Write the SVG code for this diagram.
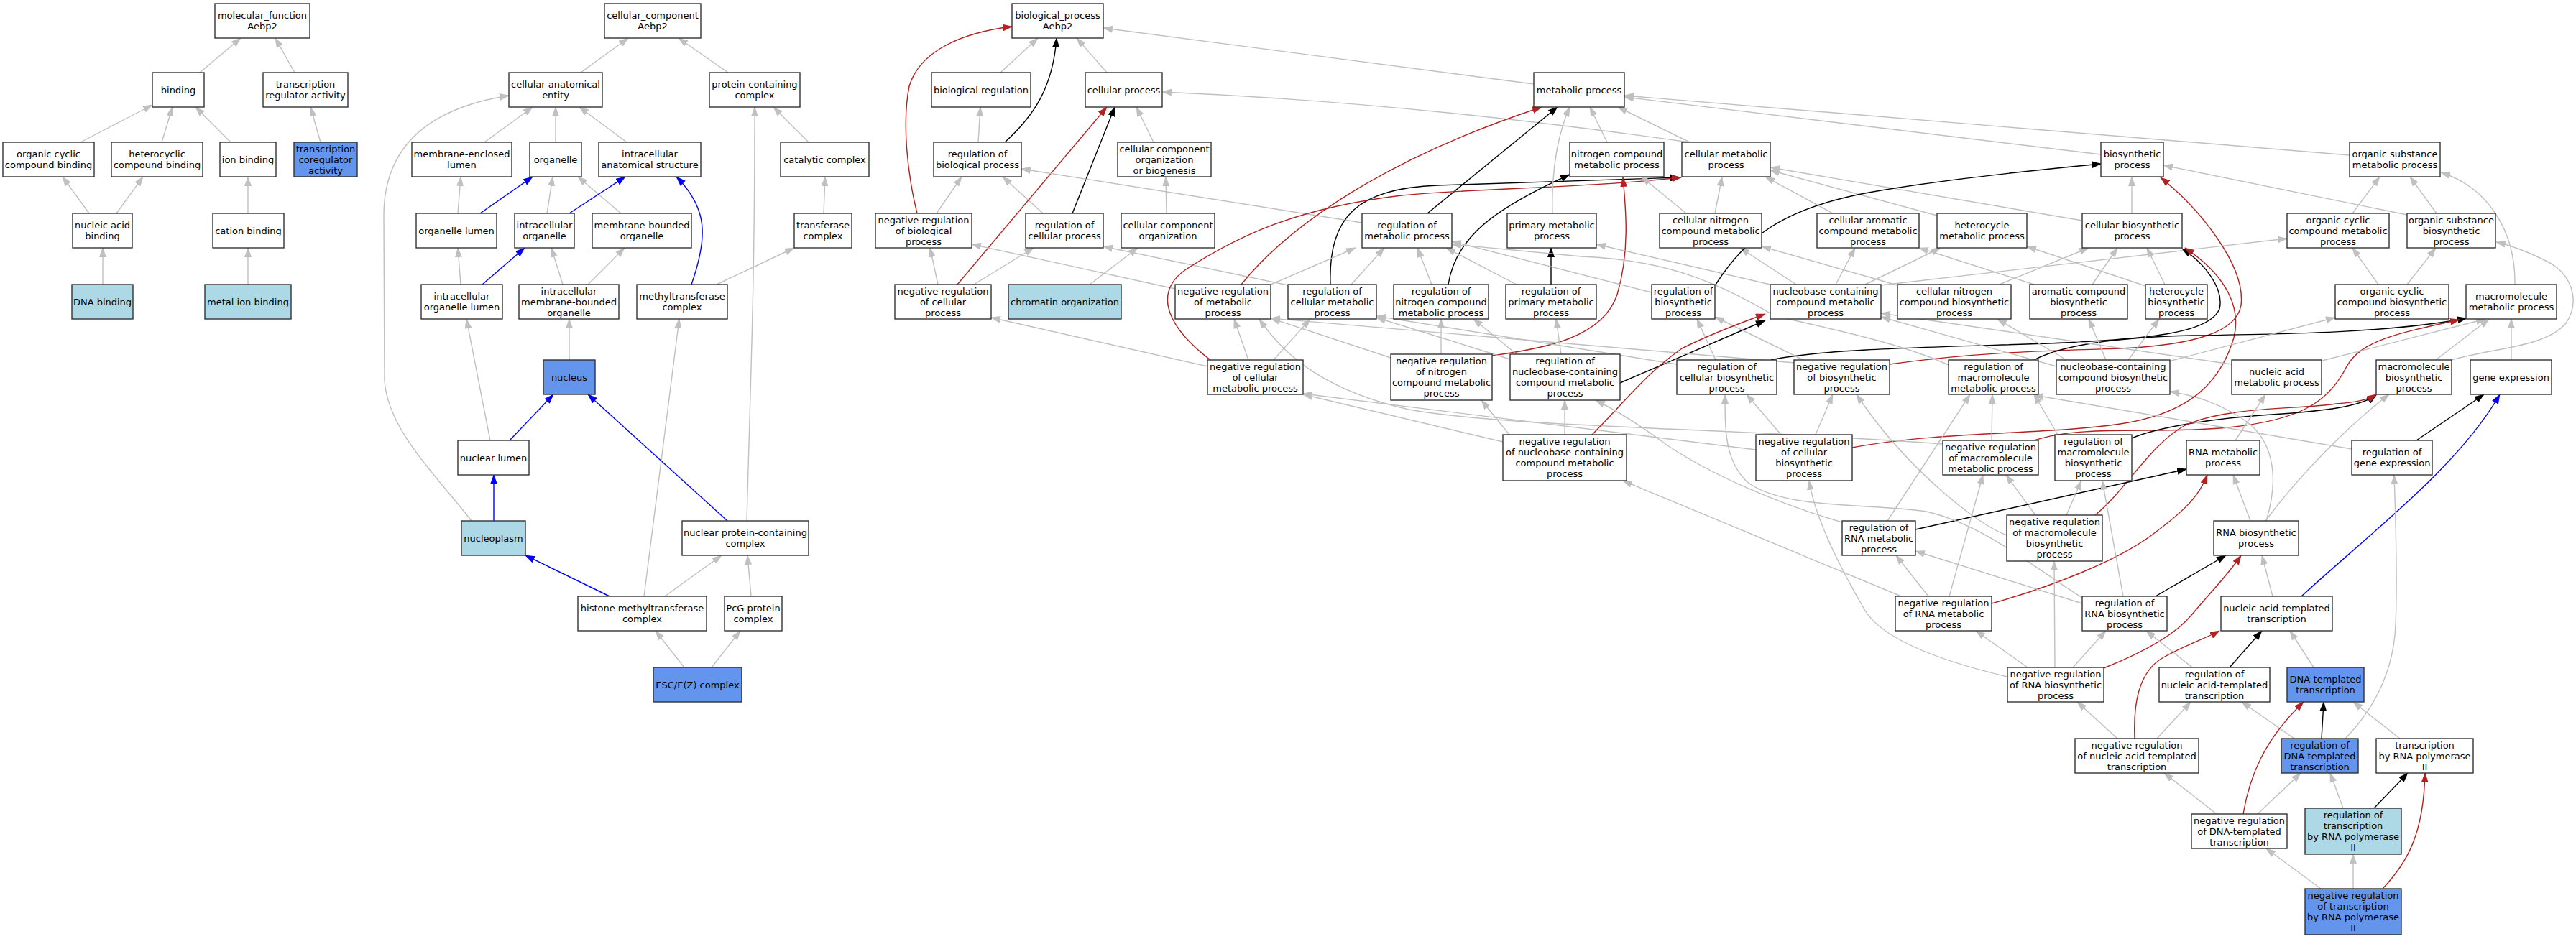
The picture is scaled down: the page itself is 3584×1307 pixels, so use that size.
<svg xmlns="http://www.w3.org/2000/svg" width="3584" height="1307" viewBox="0 0 3584 1307">
<style>
.n rect{fill:#fff;stroke:#333;stroke-width:1.4}
.lb rect{fill:#add8e6}
.cb rect{fill:#6495ed}
text{font-family:"DejaVu Sans","Liberation Sans",sans-serif;font-size:13px;text-anchor:middle;fill:#000}
#edges path{fill:none;stroke-width:1.4}
.g{stroke:#c0c0c0;marker-end:url(#ag)}
.k{stroke:#000;marker-end:url(#ak)}
.r{stroke:#b22222;marker-end:url(#ar)}
.b{stroke:#0000ff;marker-end:url(#ab)}
</style>
<defs>
<marker id="ag" viewBox="0 0 14 10" refX="13" refY="5" markerWidth="14" markerHeight="10" markerUnits="userSpaceOnUse" orient="auto"><path d="M0,0L14,5L0,10z" fill="#c0c0c0"/></marker>
<marker id="ak" viewBox="0 0 14 10" refX="13" refY="5" markerWidth="14" markerHeight="10" markerUnits="userSpaceOnUse" orient="auto"><path d="M0,0L14,5L0,10z" fill="#000"/></marker>
<marker id="ar" viewBox="0 0 14 10" refX="13" refY="5" markerWidth="14" markerHeight="10" markerUnits="userSpaceOnUse" orient="auto"><path d="M0,0L14,5L0,10z" fill="#b22222"/></marker>
<marker id="ab" viewBox="0 0 14 10" refX="13" refY="5" markerWidth="14" markerHeight="10" markerUnits="userSpaceOnUse" orient="auto"><path d="M0,0L14,5L0,10z" fill="#0000ff"/></marker>
</defs>
<rect width="3584" height="1307" fill="#fff"/>
<g id="edges">
<path class="g" d="M278,101L335,53"/>
<path class="g" d="M410,101L383,53"/>
<path class="g" d="M112,198L212,146"/>
<path class="g" d="M225,198L240,149"/>
<path class="g" d="M321,198L272,149"/>
<path class="g" d="M446,198L432,149"/>
<path class="g" d="M124,297L87,246"/>
<path class="g" d="M162,297L199,246"/>
<path class="g" d="M345,297L345,246"/>
<path class="g" d="M143,396L143,345"/>
<path class="g" d="M345,396L345,345"/>
<path class="g" d="M808,101L874,53"/>
<path class="g" d="M1013,101L944,53"/>
<path class="g" d="M674,198L741,149"/>
<path class="g" d="M773,198L773,149"/>
<path class="g" d="M872,198L806,149"/>
<path class="g" d="M1125,198L1076,149"/>
<path class="g" d="M637,297L641,246"/>
<path class="b" d="M668,297L741,246"/>
<path class="g" d="M761,297L769,246"/>
<path class="g" d="M864,297L804,246"/>
<path class="b" d="M792,297L870,246"/>
<path class="g" d="M1146,297L1148,246"/>
<path class="g" d="M641,396L637,345"/>
<path class="b" d="M671,396L730,345"/>
<path class="g" d="M783,396L767,345"/>
<path class="g" d="M818,396L869,345"/>
<path class="b" d="M962,396C985,330 985,290 941,246"/>
<path class="g" d="M997,396L1105,345"/>
<path class="g" d="M792,501L792,444"/>
<path class="g" d="M682,613L649,444"/>
<path class="b" d="M709,613L770,549"/>
<path class="b" d="M1012,725L818,549"/>
<path class="b" d="M687,725L687,661"/>
<path class="g" d="M656,725C610,665 540,600 535,530L534,300C534,200 600,150 708,133"/>
<path class="b" d="M848,830L731,773"/>
<path class="g" d="M925,830L1004,773"/>
<path class="g" d="M896,830L945,444"/>
<path class="g" d="M1045,830L1040,773"/>
<path class="g" d="M952,929L912,878"/>
<path class="g" d="M990,929L1030,878"/>
<path class="g" d="M1039,725C1045,500 1050,400 1050,149"/>
<path class="g" d="M1392,101L1444,53"/>
<path class="g" d="M1540,101L1498,53"/>
<path class="g" d="M2134,117L1535,39"/>
<path class="k" d="M1398,198C1440,160 1465,120 1470,53"/>
<path class="g" d="M1361,198L1364,149"/>
<path class="r" d="M1276,297C1262,240 1255,170 1265,120C1280,70 1340,45 1408,37"/>
<path class="g" d="M1303,297L1338,246"/>
<path class="g" d="M1451,297L1395,246"/>
<path class="k" d="M1492,297L1551,149"/>
<path class="g" d="M1605,198L1581,149"/>
<path class="g" d="M1623,297L1622,246"/>
<path class="r" d="M1332,396L1540,149"/>
<path class="g" d="M1305,396L1294,345"/>
<path class="g" d="M1355,396L1438,345"/>
<path class="g" d="M1516,396L1583,345"/>
<path class="g" d="M2351,198C2150,170 1900,140 1617,128"/>
<path class="g" d="M1895,310L1421,235"/>
<path class="g" d="M1635,402L1352,340"/>
<path class="g" d="M1792,397L1535,343"/>
<path class="g" d="M1680,510L1379,442"/>
<path class="k" d="M1986,297L2167,149"/>
<path class="r" d="M1727,396C1780,330 1900,230 2145,149"/>
<path class="k" d="M1851,396C1848,300 1890,262 2000,258L2337,247"/>
<path class="r" d="M1684,501C1630,460 1600,410 1650,375C1720,330 1800,290 1950,272C2050,262 2200,262 2339,247"/>
<path class="k" d="M2015,396C2025,330 2080,290 2184,243"/>
<path class="r" d="M2076,495C2150,485 2230,470 2250,410C2268,350 2262,290 2258,247"/>
<path class="g" d="M2236,198L2212,149"/>
<path class="g" d="M2351,198L2251,149"/>
<path class="g" d="M2160,297C2158,230 2170,180 2184,149"/>
<path class="g" d="M2923,215L2260,135"/>
<path class="g" d="M3269,216L2260,133"/>
<path class="g" d="M2346,297L2284,246"/>
<path class="g" d="M2386,297L2396,246"/>
<path class="g" d="M2550,297L2456,246"/>
<path class="g" d="M2695,300L2463,237"/>
<path class="g" d="M2897,307L2463,233"/>
<path class="g" d="M2966,297L2966,246"/>
<path class="g" d="M3349,299L3010,230"/>
<path class="g" d="M3273,297L3311,246"/>
<path class="g" d="M3390,297L3353,246"/>
<path class="g" d="M3499,396C3500,320 3460,260 3396,240"/>
<path class="g" d="M3309,396L3273,345"/>
<path class="g" d="M3349,396L3389,345"/>
<path class="k" d="M2158,396L2158,345"/>
<path class="g" d="M2463,396L2221,340"/>
<path class="g" d="M2499,396L2421,345"/>
<path class="g" d="M2554,396L2581,345"/>
<path class="g" d="M2595,396L2700,345"/>
<path class="g" d="M2617,397L3182,332"/>
<path class="g" d="M2640,397L2451,343"/>
<path class="g" d="M2782,396L2906,345"/>
<path class="g" d="M2830,396L2670,345"/>
<path class="g" d="M2911,396L2946,345"/>
<path class="g" d="M3012,396L2987,345"/>
<path class="g" d="M2985,398L2820,343"/>
<path class="k" d="M2387,396C2430,330 2480,290 2600,268C2700,250 2850,235 2923,228"/>
<path class="g" d="M2298,407L2020,336"/>
<path class="g" d="M1880,396L1926,345"/>
<path class="g" d="M1768,396L1886,345"/>
<path class="g" d="M1992,396L1972,345"/>
<path class="g" d="M2110,396L2012,345"/>
<path class="g" d="M2711,508C2650,480 2560,460 2470,440C2400,400 2330,362 2200,357L2020,340"/>
<path class="g" d="M1737,501L1717,444"/>
<path class="g" d="M1772,501L1823,444"/>
<path class="g" d="M2005,493L2005,444"/>
<path class="g" d="M1935,498L1768,443"/>
<path class="g" d="M2101,500L1915,442"/>
<path class="g" d="M2110,493L2050,444"/>
<path class="g" d="M2172,493L2165,444"/>
<path class="k" d="M2254,533L2456,446"/>
<path class="g" d="M2387,501L2361,444"/>
<path class="g" d="M2333,507L1915,440"/>
<path class="k" d="M2464,501C2540,485 2700,483 2850,478C3000,472 3075,462 3088,430C3095,400 3065,365 3036,346"/>
<path class="g" d="M2509,501L2386,441"/>
<path class="g" d="M2497,505L1768,443"/>
<path class="r" d="M2629,507C2750,490 2850,488 2950,485C3060,480 3112,460 3118,425C3125,370 3060,290 3006,247"/>
<path class="r" d="M2577,623C2700,600 2850,605 2950,590C3050,575 3090,530 3108,470C3118,430 3100,385 3040,345"/>
<path class="k" d="M2830,501C2860,485 2920,470 3050,467C3200,465 3330,462 3432,443"/>
<path class="r" d="M2830,613C2900,590 3000,605 3100,595C3200,585 3240,560 3265,510C3285,475 3330,465 3422,445"/>
<path class="g" d="M2771,613L2772,549"/>
<path class="g" d="M2703,618C2400,595 2100,595 1960,570C1850,545 1790,500 1752,444"/>
<path class="g" d="M2443,626L1813,548"/>
<path class="g" d="M2091,615L1813,549"/>
<path class="g" d="M2100,605L2061,557"/>
<path class="g" d="M2177,605L2177,557"/>
<path class="r" d="M2215,605C2260,560 2290,520 2340,485C2380,465 2420,450 2456,437"/>
<path class="g" d="M2478,605L2430,549"/>
<path class="g" d="M2526,605L2550,549"/>
<path class="g" d="M2863,605L2830,549"/>
<path class="k" d="M2966,610C3000,595 3080,582 3160,577C3240,572 3285,565 3306,550"/>
<path class="g" d="M2861,510L2617,441"/>
<path class="g" d="M3105,507L2617,436"/>
<path class="g" d="M2875,501L2779,444"/>
<path class="g" d="M2930,501L2906,444"/>
<path class="g" d="M2961,501L3004,444"/>
<path class="g" d="M3021,502L3249,442"/>
<path class="g" d="M3231,502L3458,444"/>
<path class="g" d="M3389,501L3463,444"/>
<path class="g" d="M3408,502C3460,485 3540,485 3570,450C3590,420 3580,380 3540,362C3520,352 3500,343 3473,337"/>
<path class="g" d="M3494,501L3494,444"/>
<path class="r" d="M2915,717C2960,680 2990,620 3040,592C3100,565 3200,570 3250,562C3280,560 3295,556 3306,549"/>
<path class="g" d="M2832,717L2791,661"/>
<path class="g" d="M2875,717L2896,669"/>
<path class="g" d="M2792,745C2750,730 2650,650 2583,549"/>
<path class="g" d="M3110,613L3152,549"/>
<path class="g" d="M3272,625L2830,550"/>
<path class="k" d="M3362,613L3456,549"/>
<path class="g" d="M2563,727C2470,700 2380,660 2320,620C2280,590 2250,572 2220,557"/>
<path class="g" d="M2626,725L2741,549"/>
<path class="k" d="M2665,737L3042,653"/>
<path class="g" d="M3131,725L3107,661"/>
<path class="g" d="M3152,725C3200,660 3270,590 3324,549"/>
<path class="g" d="M3153,725C3170,670 3165,620 3130,590C3090,560 3050,550 3019,545"/>
<path class="g" d="M2645,830L2258,669"/>
<path class="g" d="M2683,830L2638,773"/>
<path class="g" d="M2712,830L2759,661"/>
<path class="r" d="M2771,840C2850,818 2950,780 3000,740C3040,710 3060,690 3071,661"/>
<path class="g" d="M2897,840L2665,767"/>
<path class="g" d="M2954,830L2925,669"/>
<path class="g" d="M2897,832C2830,790 2760,730 2680,712C2600,700 2480,710 2430,670C2400,640 2400,600 2400,549"/>
<path class="k" d="M2999,830L3097,773"/>
<path class="g" d="M3162,830L3147,773"/>
<path class="b" d="M3202,830C3300,740 3420,650 3478,549"/>
<path class="g" d="M2821,929L2749,878"/>
<path class="g" d="M2859,929L2858,781"/>
<path class="g" d="M2884,929L2930,878"/>
<path class="g" d="M2793,942C2700,920 2620,890 2595,850C2560,790 2525,720 2517,669"/>
<path class="r" d="M2927,930C2990,905 3030,880 3050,855C3075,825 3100,800 3118,773"/>
<path class="g" d="M3050,929L2986,878"/>
<path class="k" d="M3102,929L3147,878"/>
<path class="g" d="M3219,929L3186,878"/>
<path class="g" d="M2946,1028L2890,977"/>
<path class="g" d="M3001,1028L3048,977"/>
<path class="r" d="M2970,1028C2968,980 2975,935 3010,915C3040,898 3070,888 3088,878"/>
<path class="g" d="M3192,1028L3119,977"/>
<path class="k" d="M3230,1028L3233,977"/>
<path class="g" d="M3263,1028C3300,990 3330,940 3333,870C3336,800 3333,720 3331,661"/>
<path class="g" d="M3339,1028L3274,977"/>
<path class="g" d="M3084,1133L3011,1076"/>
<path class="g" d="M3141,1133L3201,1076"/>
<path class="r" d="M3121,1133C3130,1080 3150,1030 3205,977"/>
<path class="g" d="M3260,1125L3242,1076"/>
<path class="k" d="M3303,1125L3350,1076"/>
<path class="g" d="M3274,1237L3274,1189"/>
<path class="g" d="M3229,1237L3153,1181"/>
<path class="r" d="M3315,1237C3350,1200 3372,1160 3374,1076"/>
</g>
<g id="mf_root" class="n"><rect x="299" y="5" width="132" height="48"/><text x="365" y="26">molecular_function</text><text x="365" y="41">Aebp2</text></g>
<g id="binding" class="n"><rect x="212" y="101" width="72" height="48"/><text x="248" y="129.5">binding</text></g>
<g id="tra" class="n"><rect x="366" y="101" width="118" height="48"/><text x="425" y="122">transcription</text><text x="425" y="137">regulator activity</text></g>
<g id="occb" class="n"><rect x="4" y="198" width="127" height="48"/><text x="67.5" y="219">organic cyclic</text><text x="67.5" y="234">compound binding</text></g>
<g id="hcb" class="n"><rect x="155" y="198" width="127" height="48"/><text x="218.5" y="219">heterocyclic</text><text x="218.5" y="234">compound binding</text></g>
<g id="ionb" class="n"><rect x="306" y="198" width="78" height="48"/><text x="345" y="226.5">ion binding</text></g>
<g id="tca" class="n cb"><rect x="409" y="198" width="88" height="48"/><text x="453" y="211.5">transcription</text><text x="453" y="226.5">coregulator</text><text x="453" y="241.5">activity</text></g>
<g id="nab" class="n"><rect x="101" y="297" width="83" height="48"/><text x="142.5" y="318">nucleic acid</text><text x="142.5" y="333">binding</text></g>
<g id="catb" class="n"><rect x="296" y="297" width="99" height="48"/><text x="345.5" y="325.5">cation binding</text></g>
<g id="dnab" class="n lb"><rect x="100" y="396" width="85" height="48"/><text x="142.5" y="424.5">DNA binding</text></g>
<g id="mib" class="n lb"><rect x="285" y="396" width="120" height="48"/><text x="345" y="424.5">metal ion binding</text></g>
<g id="cc_root" class="n"><rect x="841" y="5" width="134" height="48"/><text x="908" y="26">cellular_component</text><text x="908" y="41">Aebp2</text></g>
<g id="cae" class="n"><rect x="708" y="101" width="130" height="48"/><text x="773" y="122">cellular anatomical</text><text x="773" y="137">entity</text></g>
<g id="pcc" class="n"><rect x="987" y="101" width="126" height="48"/><text x="1050" y="122">protein-containing</text><text x="1050" y="137">complex</text></g>
<g id="mel" class="n"><rect x="573" y="198" width="139" height="48"/><text x="642.5" y="219">membrane-enclosed</text><text x="642.5" y="234">lumen</text></g>
<g id="org" class="n"><rect x="737" y="198" width="72" height="48"/><text x="773" y="226.5">organelle</text></g>
<g id="ias" class="n"><rect x="833" y="198" width="142" height="48"/><text x="904" y="219">intracellular</text><text x="904" y="234">anatomical structure</text></g>
<g id="catc" class="n"><rect x="1086" y="198" width="123" height="48"/><text x="1147.5" y="226.5">catalytic complex</text></g>
<g id="orgl" class="n"><rect x="579" y="297" width="112" height="48"/><text x="635" y="325.5">organelle lumen</text></g>
<g id="io" class="n"><rect x="716" y="297" width="83" height="48"/><text x="757.5" y="318">intracellular</text><text x="757.5" y="333">organelle</text></g>
<g id="mbo" class="n"><rect x="824" y="297" width="138" height="48"/><text x="893" y="318">membrane-bounded</text><text x="893" y="333">organelle</text></g>
<g id="trc" class="n"><rect x="1105" y="297" width="80" height="48"/><text x="1145" y="318">transferase</text><text x="1145" y="333">complex</text></g>
<g id="iol" class="n"><rect x="586" y="396" width="113" height="48"/><text x="642.5" y="417">intracellular</text><text x="642.5" y="432">organelle lumen</text></g>
<g id="imbo" class="n"><rect x="722" y="396" width="139" height="48"/><text x="791.5" y="409.5">intracellular</text><text x="791.5" y="424.5">membrane-bounded</text><text x="791.5" y="439.5">organelle</text></g>
<g id="mtc" class="n"><rect x="886" y="396" width="126" height="48"/><text x="949" y="417">methyltransferase</text><text x="949" y="432">complex</text></g>
<g id="nucleus" class="n cb"><rect x="756" y="501" width="72" height="48"/><text x="792" y="529.5">nucleus</text></g>
<g id="nl" class="n"><rect x="637" y="613" width="99" height="48"/><text x="686.5" y="641.5">nuclear lumen</text></g>
<g id="np" class="n lb"><rect x="642" y="725" width="89" height="48"/><text x="686.5" y="753.5">nucleoplasm</text></g>
<g id="npcc" class="n"><rect x="949" y="725" width="176" height="48"/><text x="1037" y="746">nuclear protein-containing</text><text x="1037" y="761">complex</text></g>
<g id="hmc" class="n"><rect x="804" y="830" width="179" height="48"/><text x="893.5" y="851">histone methyltransferase</text><text x="893.5" y="866">complex</text></g>
<g id="pcg" class="n"><rect x="1008" y="830" width="80" height="48"/><text x="1048" y="851">PcG protein</text><text x="1048" y="866">complex</text></g>
<g id="esc" class="n cb"><rect x="909" y="929" width="123" height="48"/><text x="970.5" y="957.5">ESC/E(Z) complex</text></g>
<g id="bp_root" class="n"><rect x="1408" y="5" width="127" height="48"/><text x="1471.5" y="26">biological_process</text><text x="1471.5" y="41">Aebp2</text></g>
<g id="br" class="n"><rect x="1296" y="101" width="138" height="48"/><text x="1365" y="129.5">biological regulation</text></g>
<g id="cp" class="n"><rect x="1510" y="101" width="107" height="48"/><text x="1563.5" y="129.5">cellular process</text></g>
<g id="mp" class="n"><rect x="2134" y="101" width="126" height="48"/><text x="2197" y="129.5">metabolic process</text></g>
<g id="rbp" class="n"><rect x="1299" y="198" width="122" height="48"/><text x="1360" y="219">regulation of</text><text x="1360" y="234">biological process</text></g>
<g id="ccob" class="n"><rect x="1555" y="198" width="130" height="48"/><text x="1620" y="211.5">cellular component</text><text x="1620" y="226.5">organization</text><text x="1620" y="241.5">or biogenesis</text></g>
<g id="ncmp" class="n"><rect x="2184" y="198" width="131" height="48"/><text x="2249.5" y="219">nitrogen compound</text><text x="2249.5" y="234">metabolic process</text></g>
<g id="cmp" class="n"><rect x="2340" y="198" width="123" height="48"/><text x="2401.5" y="219">cellular metabolic</text><text x="2401.5" y="234">process</text></g>
<g id="bsp" class="n"><rect x="2923" y="198" width="87" height="48"/><text x="2966.5" y="219">biosynthetic</text><text x="2966.5" y="234">process</text></g>
<g id="osmp" class="n"><rect x="3269" y="198" width="126" height="48"/><text x="3332" y="219">organic substance</text><text x="3332" y="234">metabolic process</text></g>
<g id="nrbp" class="n"><rect x="1218" y="297" width="134" height="48"/><text x="1285" y="310.5">negative regulation</text><text x="1285" y="325.5">of biological</text><text x="1285" y="340.5">process</text></g>
<g id="rcp" class="n"><rect x="1427" y="297" width="108" height="48"/><text x="1481" y="318">regulation of</text><text x="1481" y="333">cellular process</text></g>
<g id="cco" class="n"><rect x="1560" y="297" width="130" height="48"/><text x="1625" y="318">cellular component</text><text x="1625" y="333">organization</text></g>
<g id="rmp" class="n"><rect x="1895" y="297" width="125" height="48"/><text x="1957.5" y="318">regulation of</text><text x="1957.5" y="333">metabolic process</text></g>
<g id="pmp" class="n"><rect x="2097" y="297" width="124" height="48"/><text x="2159" y="318">primary metabolic</text><text x="2159" y="333">process</text></g>
<g id="cncmp" class="n"><rect x="2309" y="297" width="142" height="48"/><text x="2380" y="310.5">cellular nitrogen</text><text x="2380" y="325.5">compound metabolic</text><text x="2380" y="340.5">process</text></g>
<g id="cacmp" class="n"><rect x="2528" y="297" width="142" height="48"/><text x="2599" y="310.5">cellular aromatic</text><text x="2599" y="325.5">compound metabolic</text><text x="2599" y="340.5">process</text></g>
<g id="hmp" class="n"><rect x="2695" y="297" width="125" height="48"/><text x="2757.5" y="318">heterocycle</text><text x="2757.5" y="333">metabolic process</text></g>
<g id="cbp" class="n"><rect x="2897" y="297" width="139" height="48"/><text x="2966.5" y="318">cellular biosynthetic</text><text x="2966.5" y="333">process</text></g>
<g id="occmp" class="n"><rect x="3182" y="297" width="142" height="48"/><text x="3253" y="310.5">organic cyclic</text><text x="3253" y="325.5">compound metabolic</text><text x="3253" y="340.5">process</text></g>
<g id="osbp" class="n"><rect x="3349" y="297" width="123" height="48"/><text x="3410.5" y="310.5">organic substance</text><text x="3410.5" y="325.5">biosynthetic</text><text x="3410.5" y="340.5">process</text></g>
<g id="nrcp" class="n"><rect x="1245" y="396" width="134" height="48"/><text x="1312" y="409.5">negative regulation</text><text x="1312" y="424.5">of cellular</text><text x="1312" y="439.5">process</text></g>
<g id="co" class="n lb"><rect x="1403" y="396" width="157" height="48"/><text x="1481.5" y="424.5">chromatin organization</text></g>
<g id="nrmp" class="n"><rect x="1635" y="396" width="133" height="48"/><text x="1701.5" y="409.5">negative regulation</text><text x="1701.5" y="424.5">of metabolic</text><text x="1701.5" y="439.5">process</text></g>
<g id="rcmp" class="n"><rect x="1792" y="396" width="123" height="48"/><text x="1853.5" y="409.5">regulation of</text><text x="1853.5" y="424.5">cellular metabolic</text><text x="1853.5" y="439.5">process</text></g>
<g id="rncmp" class="n"><rect x="1939" y="396" width="132" height="48"/><text x="2005" y="409.5">regulation of</text><text x="2005" y="424.5">nitrogen compound</text><text x="2005" y="439.5">metabolic process</text></g>
<g id="rpmp" class="n"><rect x="2095" y="396" width="126" height="48"/><text x="2158" y="409.5">regulation of</text><text x="2158" y="424.5">primary metabolic</text><text x="2158" y="439.5">process</text></g>
<g id="rbsp" class="n"><rect x="2298" y="396" width="88" height="48"/><text x="2342" y="409.5">regulation of</text><text x="2342" y="424.5">biosynthetic</text><text x="2342" y="439.5">process</text></g>
<g id="nbcmp" class="n"><rect x="2463" y="396" width="154" height="48"/><text x="2540" y="409.5">nucleobase-containing</text><text x="2540" y="424.5">compound metabolic</text><text x="2540" y="439.5">process</text></g>
<g id="cncbp" class="n"><rect x="2640" y="396" width="158" height="48"/><text x="2719" y="409.5">cellular nitrogen</text><text x="2719" y="424.5">compound biosynthetic</text><text x="2719" y="439.5">process</text></g>
<g id="acbp" class="n"><rect x="2824" y="396" width="136" height="48"/><text x="2892" y="409.5">aromatic compound</text><text x="2892" y="424.5">biosynthetic</text><text x="2892" y="439.5">process</text></g>
<g id="hbp" class="n"><rect x="2985" y="396" width="86" height="48"/><text x="3028" y="409.5">heterocycle</text><text x="3028" y="424.5">biosynthetic</text><text x="3028" y="439.5">process</text></g>
<g id="occbp" class="n"><rect x="3249" y="396" width="158" height="48"/><text x="3328" y="409.5">organic cyclic</text><text x="3328" y="424.5">compound biosynthetic</text><text x="3328" y="439.5">process</text></g>
<g id="mmp" class="n"><rect x="3431" y="396" width="126" height="48"/><text x="3494" y="417">macromolecule</text><text x="3494" y="432">metabolic process</text></g>
<g id="nrcmp" class="n"><rect x="1680" y="501" width="133" height="48"/><text x="1746.5" y="514.5">negative regulation</text><text x="1746.5" y="529.5">of cellular</text><text x="1746.5" y="544.5">metabolic process</text></g>
<g id="nrncmp" class="n"><rect x="1935" y="493" width="141" height="64"/><text x="2005.5" y="507">negative regulation</text><text x="2005.5" y="522">of nitrogen</text><text x="2005.5" y="537">compound metabolic</text><text x="2005.5" y="552">process</text></g>
<g id="rnbcmp" class="n"><rect x="2101" y="493" width="153" height="64"/><text x="2177.5" y="507">regulation of</text><text x="2177.5" y="522">nucleobase-containing</text><text x="2177.5" y="537">compound metabolic</text><text x="2177.5" y="552">process</text></g>
<g id="rcbp" class="n"><rect x="2333" y="501" width="139" height="48"/><text x="2402.5" y="514.5">regulation of</text><text x="2402.5" y="529.5">cellular biosynthetic</text><text x="2402.5" y="544.5">process</text></g>
<g id="nrbsp" class="n"><rect x="2496" y="501" width="133" height="48"/><text x="2562.5" y="514.5">negative regulation</text><text x="2562.5" y="529.5">of biosynthetic</text><text x="2562.5" y="544.5">process</text></g>
<g id="rmmp" class="n"><rect x="2711" y="501" width="125" height="48"/><text x="2773.5" y="514.5">regulation of</text><text x="2773.5" y="529.5">macromolecule</text><text x="2773.5" y="544.5">metabolic process</text></g>
<g id="nbcbp" class="n"><rect x="2861" y="501" width="158" height="48"/><text x="2940" y="514.5">nucleobase-containing</text><text x="2940" y="529.5">compound biosynthetic</text><text x="2940" y="544.5">process</text></g>
<g id="namp" class="n"><rect x="3105" y="501" width="125" height="48"/><text x="3167.5" y="522">nucleic acid</text><text x="3167.5" y="537">metabolic process</text></g>
<g id="mbp" class="n"><rect x="3306" y="501" width="105" height="48"/><text x="3358.5" y="514.5">macromolecule</text><text x="3358.5" y="529.5">biosynthetic</text><text x="3358.5" y="544.5">process</text></g>
<g id="ge" class="n"><rect x="3437" y="501" width="113" height="48"/><text x="3493.5" y="529.5">gene expression</text></g>
<g id="nrnbcmp" class="n"><rect x="2091" y="605" width="172" height="64"/><text x="2177" y="619">negative regulation</text><text x="2177" y="634">of nucleobase-containing</text><text x="2177" y="649">compound metabolic</text><text x="2177" y="664">process</text></g>
<g id="nrcbp" class="n"><rect x="2443" y="605" width="134" height="64"/><text x="2510" y="619">negative regulation</text><text x="2510" y="634">of cellular</text><text x="2510" y="649">biosynthetic</text><text x="2510" y="664">process</text></g>
<g id="nrmmp" class="n"><rect x="2703" y="613" width="133" height="48"/><text x="2769.5" y="626.5">negative regulation</text><text x="2769.5" y="641.5">of macromolecule</text><text x="2769.5" y="656.5">metabolic process</text></g>
<g id="rmbp" class="n"><rect x="2859" y="605" width="107" height="64"/><text x="2912.5" y="619">regulation of</text><text x="2912.5" y="634">macromolecule</text><text x="2912.5" y="649">biosynthetic</text><text x="2912.5" y="664">process</text></g>
<g id="rnamp" class="n"><rect x="3042" y="613" width="102" height="48"/><text x="3093" y="634">RNA metabolic</text><text x="3093" y="649">process</text></g>
<g id="rge" class="n"><rect x="3272" y="613" width="112" height="48"/><text x="3328" y="634">regulation of</text><text x="3328" y="649">gene expression</text></g>
<g id="rrnamp" class="n"><rect x="2563" y="725" width="102" height="48"/><text x="2614" y="738.5">regulation of</text><text x="2614" y="753.5">RNA metabolic</text><text x="2614" y="768.5">process</text></g>
<g id="nrmbp" class="n"><rect x="2792" y="717" width="133" height="64"/><text x="2858.5" y="731">negative regulation</text><text x="2858.5" y="746">of macromolecule</text><text x="2858.5" y="761">biosynthetic</text><text x="2858.5" y="776">process</text></g>
<g id="rnabp" class="n"><rect x="3080" y="725" width="118" height="48"/><text x="3139" y="746">RNA biosynthetic</text><text x="3139" y="761">process</text></g>
<g id="nrrnamp" class="n"><rect x="2637" y="830" width="134" height="48"/><text x="2704" y="843.5">negative regulation</text><text x="2704" y="858.5">of RNA metabolic</text><text x="2704" y="873.5">process</text></g>
<g id="rrnabp" class="n"><rect x="2897" y="830" width="118" height="48"/><text x="2956" y="843.5">regulation of</text><text x="2956" y="858.5">RNA biosynthetic</text><text x="2956" y="873.5">process</text></g>
<g id="natt" class="n"><rect x="3090" y="830" width="155" height="48"/><text x="3167.5" y="851">nucleic acid-templated</text><text x="3167.5" y="866">transcription</text></g>
<g id="nrrnabp" class="n"><rect x="2793" y="929" width="134" height="48"/><text x="2860" y="942.5">negative regulation</text><text x="2860" y="957.5">of RNA biosynthetic</text><text x="2860" y="972.5">process</text></g>
<g id="rnatt" class="n"><rect x="3004" y="929" width="154" height="48"/><text x="3081" y="942.5">regulation of</text><text x="3081" y="957.5">nucleic acid-templated</text><text x="3081" y="972.5">transcription</text></g>
<g id="dtt" class="n cb"><rect x="3182" y="929" width="107" height="48"/><text x="3235.5" y="950">DNA-templated</text><text x="3235.5" y="965">transcription</text></g>
<g id="nrnatt" class="n"><rect x="2887" y="1028" width="172" height="48"/><text x="2973" y="1041.5">negative regulation</text><text x="2973" y="1056.5">of nucleic acid-templated</text><text x="2973" y="1071.5">transcription</text></g>
<g id="rdtt" class="n cb"><rect x="3174" y="1028" width="107" height="48"/><text x="3227.5" y="1041.5">regulation of</text><text x="3227.5" y="1056.5">DNA-templated</text><text x="3227.5" y="1071.5">transcription</text></g>
<g id="trp2" class="n"><rect x="3306" y="1028" width="135" height="48"/><text x="3373.5" y="1041.5">transcription</text><text x="3373.5" y="1056.5">by RNA polymerase</text><text x="3373.5" y="1071.5">II</text></g>
<g id="nrdtt" class="n"><rect x="3049" y="1133" width="133" height="48"/><text x="3115.5" y="1146.5">negative regulation</text><text x="3115.5" y="1161.5">of DNA-templated</text><text x="3115.5" y="1176.5">transcription</text></g>
<g id="rtrp2" class="n lb"><rect x="3207" y="1125" width="134" height="64"/><text x="3274" y="1139">regulation of</text><text x="3274" y="1154">transcription</text><text x="3274" y="1169">by RNA polymerase</text><text x="3274" y="1184">II</text></g>
<g id="nrtrp2" class="n cb"><rect x="3207" y="1237" width="134" height="64"/><text x="3274" y="1251">negative regulation</text><text x="3274" y="1266">of transcription</text><text x="3274" y="1281">by RNA polymerase</text><text x="3274" y="1296">II</text></g>
</svg>
